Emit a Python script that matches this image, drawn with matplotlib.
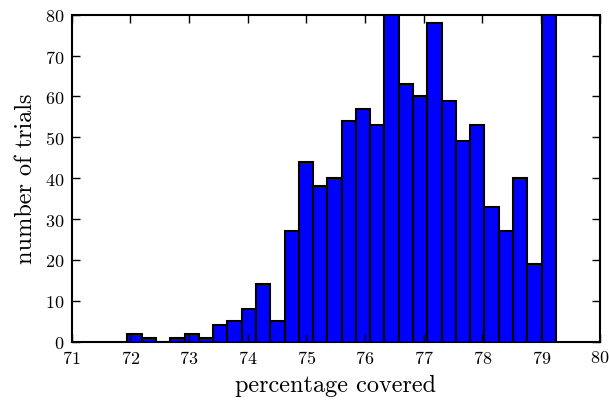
import numpy as np
import matplotlib
matplotlib.use('Agg')
import matplotlib.pyplot as plt

# histogram counts (30 bins); the two tallest bars are clipped at 80
counts = [2, 1, 0, 1, 2, 1, 4, 5, 8, 14, 5, 27, 44, 38, 40,
          54, 57, 53, 88, 63, 60, 78, 59, 49, 53, 33, 27, 40, 19, 96]
bin_start = 71.95
bin_stop = 79.25
x_ticks = [71, 72, 73, 74, 75, 76, 77, 78, 79, 80]
y_ticks = [0, 10, 20, 30, 40, 50, 60, 70, 80]

plt.rcParams['font.family'] = 'serif'
plt.rcParams['font.serif'] = ['cmr10']
plt.rcParams['mathtext.fontset'] = 'cm'
plt.rcParams['axes.formatter.use_mathtext'] = True

edges = np.linspace(bin_start, bin_stop, len(counts) + 1)

fig = plt.figure(figsize=(6.09, 4.02), dpi=100)
ax = fig.add_axes([0.1177, 0.1475, 0.8673, 0.8135])

ax.hist(edges[:-1], bins=edges, weights=counts, color='#0000ff',
        edgecolor='black', linewidth=1.5)

ax.set_xlim(71, 80)
ax.set_ylim(0, 80)
ax.set_xticks(x_ticks)
ax.set_yticks(y_ticks)
ax.tick_params(direction='in', top=True, right=True, length=5.5, width=1,
               labelsize=13, pad=5)
for s in ax.spines.values():
    s.set_linewidth(1.5)

ax.set_xlabel('percentage covered', fontsize=17.5, labelpad=6)
ax.set_ylabel('number of trials', fontsize=17.5, labelpad=6)

fig.savefig('out.png', dpi=100)
